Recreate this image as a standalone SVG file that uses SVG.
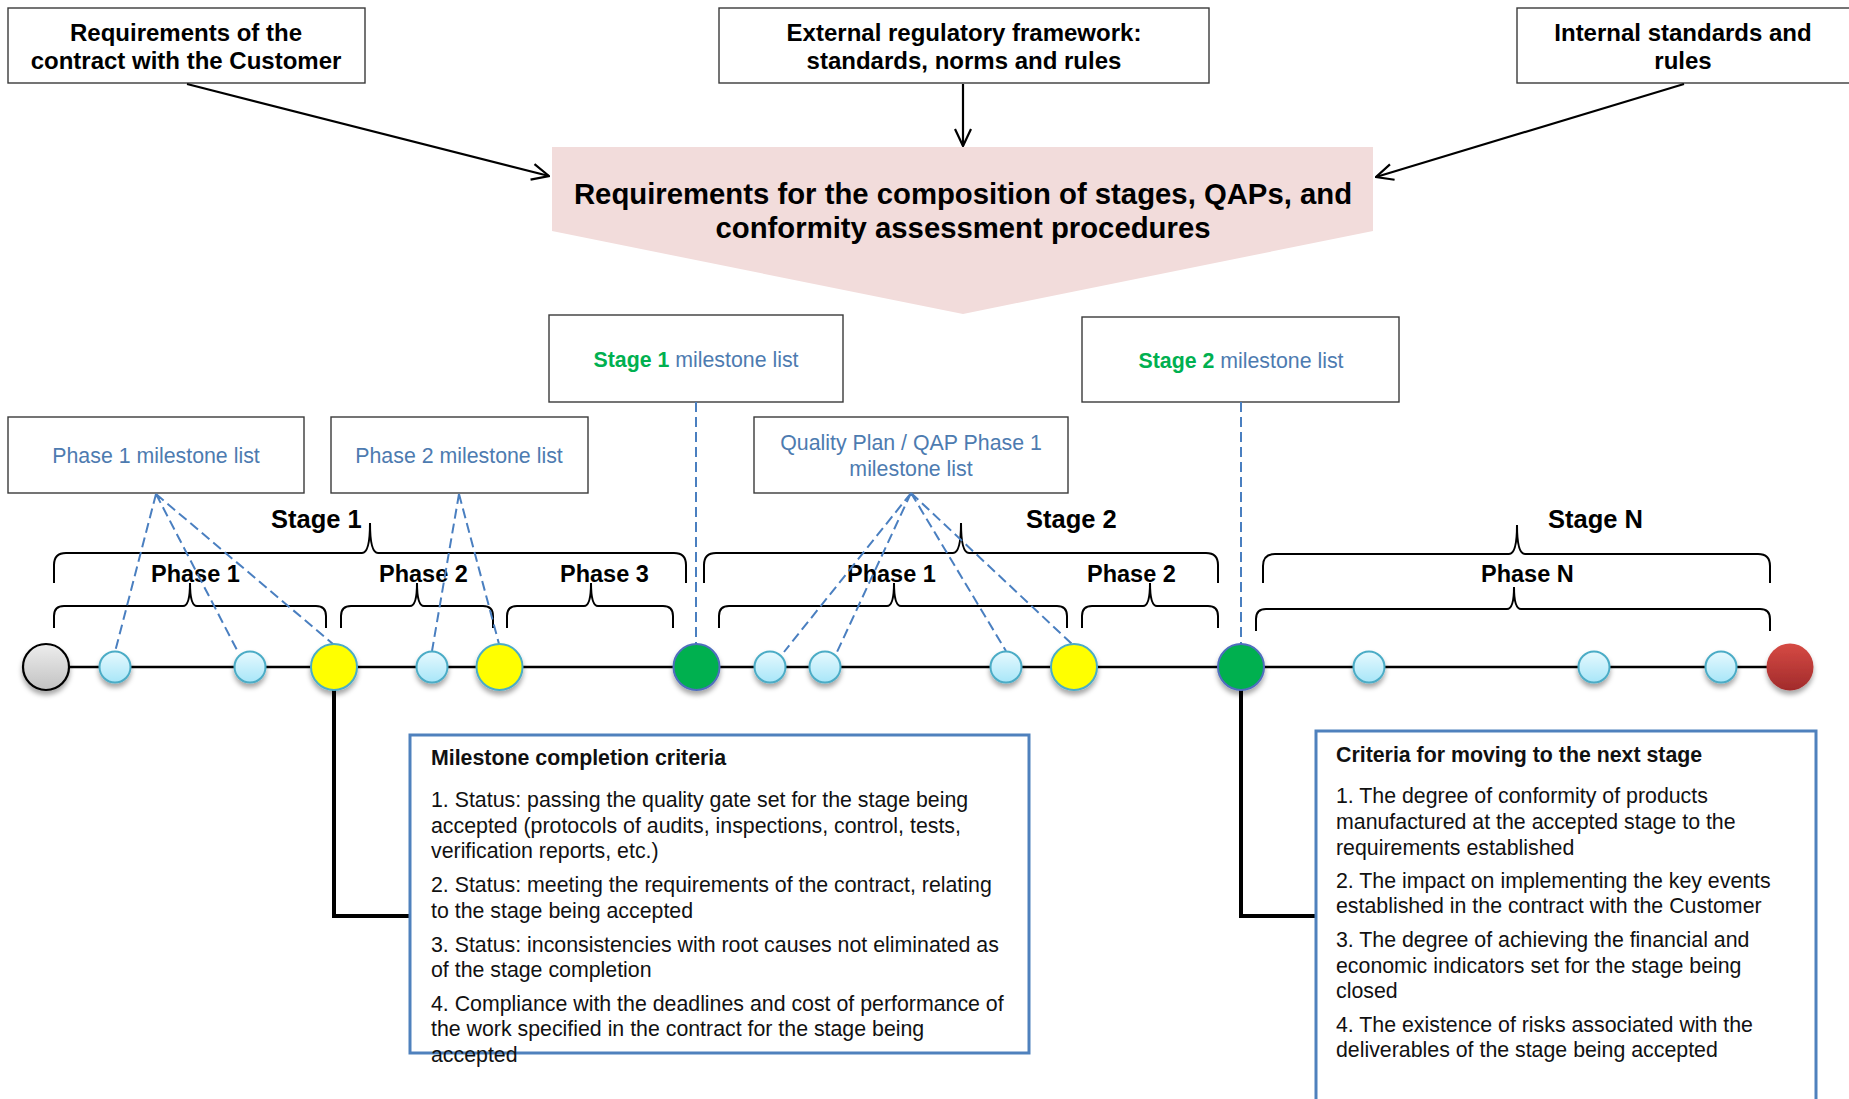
<svg xmlns="http://www.w3.org/2000/svg" width="1849" height="1099" viewBox="0 0 1849 1099">
<style>
text{font-family:"Liberation Sans",Arial,sans-serif}
.box{fill:#fff;stroke:#3a3a3a;stroke-width:1.4}
.hd{font-size:24px;font-weight:bold;fill:#000;text-anchor:middle}
.ml{font-size:21.33px;fill:#4d7bb0;text-anchor:middle}
.gr{fill:#00b050;font-weight:bold}
.st{font-size:25.5px;font-weight:bold;fill:#000}
.ph{font-size:23.5px;font-weight:bold;fill:#000}
.brace{fill:none;stroke:#000;stroke-width:2}
.crit{fill:#fff;stroke:#4f81bd;stroke-width:3}
.ct{font-size:21.33px;fill:#111}
.cth{font-size:21.33px;font-weight:bold;fill:#111}
.arr{stroke:#000;stroke-width:2.2;fill:none}
.dash{stroke:#4a7fc0;stroke-width:2;stroke-dasharray:10 5;fill:none}
.thick{stroke:#000;stroke-width:4;fill:none}
.lb{fill:url(#gLb);stroke:#4bacc6;stroke-width:2}
.yl{fill:#ffff00;stroke:#4bacc6;stroke-width:2}
.gn{fill:#00b050;stroke:#4f6ebd;stroke-width:2}
</style>
<defs>
<marker id="ah" markerUnits="userSpaceOnUse" markerWidth="20" markerHeight="20" viewBox="0 0 20 20" refX="19" refY="10" orient="auto">
<path d="M2,2 L19,10 L2,18" fill="none" stroke="#000" stroke-width="2.2"/>
</marker>
<linearGradient id="gLb" x1="0" y1="0" x2="0" y2="1"><stop offset="0" stop-color="#e6f9fe"/><stop offset="1" stop-color="#a8e6f8"/></linearGradient>
<linearGradient id="gGray" x1="0" y1="0" x2="0" y2="1"><stop offset="0" stop-color="#ededed"/><stop offset="1" stop-color="#c2c2c2"/></linearGradient>
<linearGradient id="gRed" x1="0" y1="0" x2="0" y2="1"><stop offset="0" stop-color="#d64a44"/><stop offset="1" stop-color="#a12b2b"/></linearGradient>
<filter id="sh" x="-40%" y="-40%" width="180%" height="190%"><feDropShadow dx="0" dy="4" stdDeviation="2.5" flood-color="#000" flood-opacity="0.35"/></filter>
</defs>

<g id="box-contract">
<rect class="box" x="8" y="8" width="357" height="75"/>
<text class="hd" x="186" y="41">Requirements of the</text>
<text class="hd" x="186" y="69">contract with the Customer</text>
</g>
<g id="box-external">
<rect class="box" x="719" y="8" width="490" height="75"/>
<text class="hd" x="964" y="41">External regulatory framework:</text>
<text class="hd" x="964" y="69">standards, norms and rules</text>
</g>
<g id="box-internal">
<rect class="box" x="1517" y="8" width="345" height="75"/>
<text class="hd" x="1683" y="41">Internal standards and</text>
<text class="hd" x="1683" y="69">rules</text>
</g>
<g id="requirements">
<polygon points="552,147 1373,147 1373,231 963,314 552,231" fill="#f2dcdb"/>
<text x="963" y="204" font-size="29.3" font-weight="bold" text-anchor="middle" fill="#000">Requirements for the composition of stages, QAPs, and</text>
<text x="963" y="238" font-size="29.3" font-weight="bold" text-anchor="middle" fill="#000">conformity assessment procedures</text>
</g>

<g id="list-phase1">
<rect class="box" x="8" y="417" width="296" height="76"/>
<text class="ml" x="156" y="463">Phase 1 milestone list</text>
</g>
<g id="list-phase2">
<rect class="box" x="331" y="417" width="257" height="76"/>
<text class="ml" x="459" y="463">Phase 2 milestone list</text>
</g>
<g id="list-stage1">
<rect class="box" x="549" y="315" width="294" height="87"/>
<text class="ml" x="696" y="367"><tspan class="gr">Stage 1</tspan> milestone list</text>
</g>
<g id="list-qap">
<rect class="box" x="754" y="417" width="314" height="76"/>
<text class="ml" x="911" y="450">Quality Plan / QAP Phase 1</text>
<text class="ml" x="911" y="476">milestone list</text>
</g>
<g id="list-stage2">
<rect class="box" x="1082" y="317" width="317" height="85"/>
<text class="ml" x="1241" y="368"><tspan class="gr">Stage 2</tspan> milestone list</text>
</g>

<g id="braces">
<path class="brace" d="M54,583 L54,565 Q54,553 66,553 L362,553 Q370,553 370,523 Q370,553 378,553 L674,553 Q686,553 686,565 L686,583"/>
<path class="brace" d="M54,628 L54,616 Q54,606 64,606 L183,606 Q190,606 190,583 Q190,606 197,606 L316,606 Q326,606 326,616 L326,628"/>
<path class="brace" d="M341,628 L341,616 Q341,606 351,606 L410,606 Q417,606 417,583 Q417,606 424,606 L483,606 Q493,606 493,616 L493,628"/>
<path class="brace" d="M507,628 L507,616 Q507,606 517,606 L584,606 Q591,606 591,583 Q591,606 598,606 L663,606 Q673,606 673,616 L673,628"/>
<path class="brace" d="M704,583 L704,565 Q704,553 716,553 L953,553 Q961,553 961,523 Q961,553 969,553 L1206,553 Q1218,553 1218,565 L1218,583"/>
<path class="brace" d="M719,628 L719,616 Q719,606 729,606 L887,606 Q894,606 894,583 Q894,606 901,606 L1057,606 Q1067,606 1067,616 L1067,628"/>
<path class="brace" d="M1082,628 L1082,616 Q1082,606 1092,606 L1143,606 Q1150,606 1150,583 Q1150,606 1157,606 L1208,606 Q1218,606 1218,616 L1218,628"/>
<path class="brace" d="M1263,583 L1263,566 Q1263,554 1275,554 L1509,554 Q1517,554 1517,525 Q1517,554 1525,554 L1758,554 Q1770,554 1770,566 L1770,583"/>
<path class="brace" d="M1256,631 L1256,619 Q1256,609 1266,609 L1507,609 Q1514,609 1514,587 Q1514,609 1521,609 L1760,609 Q1770,609 1770,619 L1770,631"/>
</g>

<g id="labels">
<text class="st" x="271" y="528">Stage 1</text>
<text class="st" x="1026" y="528">Stage 2</text>
<text class="st" x="1548" y="528">Stage N</text>
<text class="ph" x="151" y="582">Phase 1</text>
<text class="ph" x="379" y="582">Phase 2</text>
<text class="ph" x="560" y="582">Phase 3</text>
<text class="ph" x="847" y="582">Phase 1</text>
<text class="ph" x="1087" y="582">Phase 2</text>
<text class="ph" x="1481" y="582">Phase N</text>
</g>

<g id="connectors">
<line class="arr" x1="187" y1="84" x2="549" y2="176" marker-end="url(#ah)"/>
<line class="arr" x1="963" y1="84" x2="963" y2="146" marker-end="url(#ah)"/>
<line class="arr" x1="1684" y1="84" x2="1376" y2="177" marker-end="url(#ah)"/>
<path class="dash" d="M156,494 L115,652 M156,494 L238,652 M156,494 L333,644"/>
<path class="dash" d="M459,494 L432,651 M459,494 L499,644"/>
<path class="dash" d="M696,402 L696,644"/>
<path class="dash" d="M911,493 L784,652 M911,493 L837,652 M911,493 L1006,651 M911,493 L1072,644"/>
<path class="dash" d="M1241,402 L1241,644"/>
<line x1="46" y1="667" x2="1790" y2="667" stroke="#000" stroke-width="2.6"/>
<path class="thick" d="M334,690 L334,916 L411,916"/>
<path class="thick" d="M1241,690 L1241,916 L1317,916"/>
</g>

<g id="milestones" filter="url(#sh)">
<circle id="m-start" cx="46" cy="667" r="23" fill="url(#gGray)" stroke="#000" stroke-width="2.2"/>
<circle class="lb" cx="115" cy="667" r="15.5"/>
<circle class="lb" cx="250" cy="667" r="15.5"/>
<circle class="yl" cx="334" cy="667" r="23"/>
<circle class="lb" cx="432" cy="667" r="15.5"/>
<circle class="yl" cx="499.5" cy="667" r="23"/>
<circle class="gn" cx="696.5" cy="667" r="23"/>
<circle class="lb" cx="770" cy="667" r="15.5"/>
<circle class="lb" cx="825" cy="667" r="15.5"/>
<circle class="lb" cx="1006" cy="667" r="15.5"/>
<circle class="yl" cx="1074" cy="667" r="23"/>
<circle class="gn" cx="1241" cy="667" r="23"/>
<circle class="lb" cx="1369" cy="667" r="15.5"/>
<circle class="lb" cx="1594" cy="667" r="15.5"/>
<circle class="lb" cx="1721" cy="667" r="15.5"/>
<circle id="m-end" cx="1790" cy="667" r="23.5" fill="url(#gRed)"/>
</g>

<g id="milestone-criteria">
<rect class="crit" x="410" y="735" width="619" height="318"/>
<text class="cth" x="431" y="765">Milestone completion criteria</text>
<text class="ct" x="431" y="807">1. Status: passing the quality gate set for the stage being</text>
<text class="ct" x="431" y="832.5">accepted (protocols of audits, inspections, control, tests,</text>
<text class="ct" x="431" y="858">verification reports, etc.)</text>
<text class="ct" x="431" y="892">2. Status: meeting the requirements of the contract, relating</text>
<text class="ct" x="431" y="917.5">to the stage being accepted</text>
<text class="ct" x="431" y="951.5">3. Status: inconsistencies with root causes not eliminated as</text>
<text class="ct" x="431" y="977">of the stage completion</text>
<text class="ct" x="431" y="1010.5">4. Compliance with the deadlines and cost of performance of</text>
<text class="ct" x="431" y="1036">the work specified in the contract for the stage being</text>
<text class="ct" x="431" y="1061.5">accepted</text>
</g>

<g id="stage-criteria">
<rect class="crit" x="1316" y="731" width="500" height="400"/>
<text class="cth" x="1336" y="762">Criteria for moving to the next stage</text>
<text class="ct" x="1336" y="803">1. The degree of conformity of products</text>
<text class="ct" x="1336" y="829">manufactured at the accepted stage to the</text>
<text class="ct" x="1336" y="854.5">requirements established</text>
<text class="ct" x="1336" y="887.5">2. The impact on implementing the key events</text>
<text class="ct" x="1336" y="913">established in the contract with the Customer</text>
<text class="ct" x="1336" y="947">3. The degree of achieving the financial and</text>
<text class="ct" x="1336" y="972.5">economic indicators set for the stage being</text>
<text class="ct" x="1336" y="998">closed</text>
<text class="ct" x="1336" y="1031.5">4. The existence of risks associated with the</text>
<text class="ct" x="1336" y="1057">deliverables of the stage being accepted</text>
</g>
</svg>
